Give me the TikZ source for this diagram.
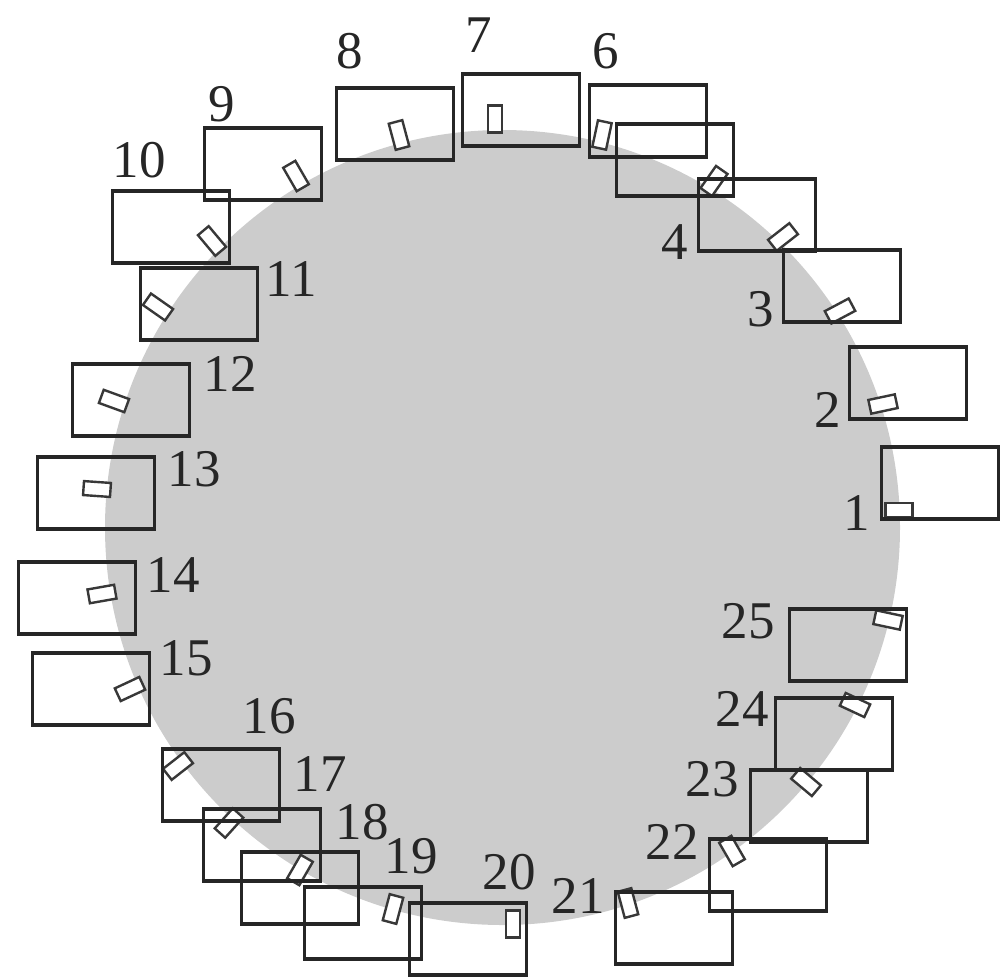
\documentclass[tikz,border=0pt]{standalone}
\usepackage{fontspec}
\setmainfont{Liberation Serif}
\begin{document}
\begin{tikzpicture}[x=0.5pt,y=-0.5pt,
  bigbox/.style={draw=black!85,line width=1.7pt,minimum width=58.5pt,minimum height=36pt,inner sep=0pt},
  smallbox/.style={draw=black!78,fill=white,line width=1.2pt,minimum width=13.5pt,minimum height=7pt,inner sep=0pt},
  numlabel/.style={inner sep=0pt,text=black!85,font=\fontsize{26.5}{30}\selectfont}]
\useasboundingbox (0,0) rectangle (1000,976);
\fill[black!20] (502.5,527.5) circle[radius=397.5];
% small boxes
\foreach \n/\cx/\cy/\ca in {1/899/510/0,2/883/404/12,3/840/311/28,4/783/237/38,5/714/181/55,
  6/602/135/78,7/495/119/90,8/399/135/105,9/296/176/120,10/212/241/130,11/158/307/145,
  12/114/401/160,13/97/489/176,14/102/594/10,15/130/689/25,16/178/766/38,17/229/823/48,
  18/300/870/60,19/393/909/75,20/513/924/90,21/628/903/105,22/732/851/120,23/806/782/140,
  24/855/705/155,25/888/620/168}
  \node[smallbox,rotate=\ca] (c\n) at (\cx,\cy) {};
% big boxes
\foreach \n/\bx/\by in {1/940/483,2/908/383,3/842/286,4/757/215,5/675/160,6/648/121,
  7/521/110,8/395/124,9/263/164,10/171/227,11/199/304,12/131/400,13/96/493,14/77/598,
  15/91/689,16/221/785,17/262/845,18/300/888,19/363/923,20/468/939,21/674/928,
  22/768/875,23/809/806,24/834/734,25/848/645}
  \node[bigbox] (b\n) at (\bx,\by) {};
% labels
\foreach \n/\lx/\ly in {1/857/513,2/828/410,3/761/309,4/675/242,6/606/51,7/479/35,
  8/350/51,9/222/104,10/139/160,11/291/279,12/230/374,13/194/469,14/173/575,
  15/186/658,16/269/716,17/320/774,18/362/822,19/411/856,20/509/872,21/578/896,
  22/672/842,23/712/779,24/742/709,25/748/621}
  \node[numlabel] (l\n) at (\lx,\ly) {\n};
\end{tikzpicture}
\end{document}
